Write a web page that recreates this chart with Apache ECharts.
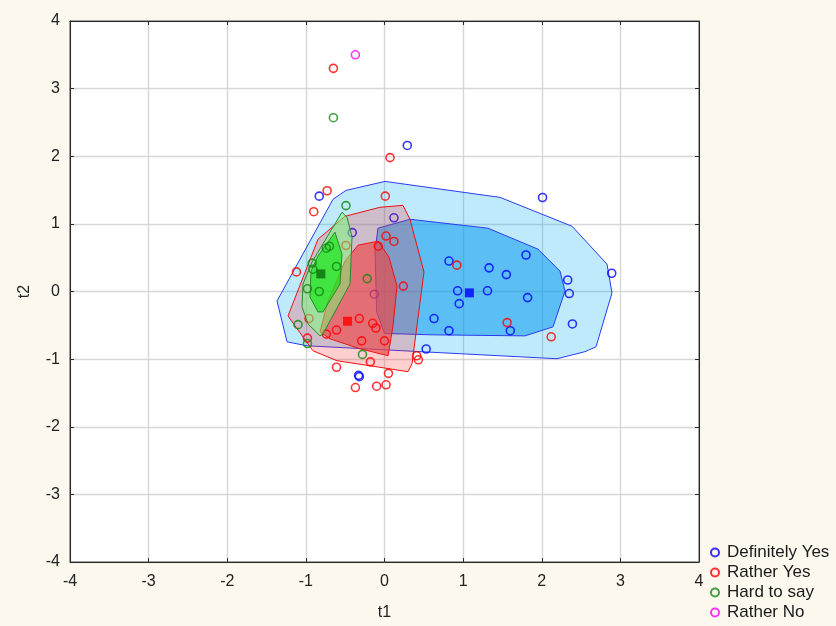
<!DOCTYPE html>
<html>
<head>
<meta charset="utf-8">
<script src="https://cdn.jsdelivr.net/npm/echarts@6/dist/echarts.min.js"></script>
<style>
  html, body { margin: 0; padding: 0; background: #fdf8ee; }
  #chart { width: 836px; height: 626px; }
</style>
</head>
<body>
<div id="chart"></div>
<script>
// ---- Data ----
const xTicks = [-4, -3, -2, -1, 0, 1, 2, 3, 4];
const yTicks = [-4, -3, -2, -1, 0, 1, 2, 3, 4];
const seriesNames = ['Definitely Yes', 'Rather Yes', 'Hard to say', 'Rather No'];

const definitelyYes = [
  [0.29, 2.16], [-0.83, 1.41], [2.01, 1.39], [1.80, 0.54], [0.82, 0.45], [1.33, 0.35],
  [1.55, 0.25], [2.33, 0.17], [2.89, 0.27], [2.35, -0.03], [0.93, 0.01], [1.31, 0.01],
  [1.82, -0.09], [0.95, -0.18], [0.63, -0.40], [0.82, -0.58], [1.60, -0.58], [2.39, -0.48],
  [0.53, -0.85], [-0.33, -1.24], [-0.32, -1.26], [0.12, 1.09], [-0.41, 0.87], [-0.13, -0.04]
];
const ratherYes = [
  [-0.65, 3.30], [0.07, 1.98], [-0.73, 1.49], [-0.90, 1.18], [0.01, 1.41], [0.02, 0.82],
  [0.12, 0.74], [-0.08, 0.67], [-1.12, 0.29], [0.24, 0.08], [0.92, 0.39], [-0.49, 0.68],
  [-0.96, -0.40], [-0.32, -0.40], [-0.15, -0.47], [-0.11, -0.54], [-0.61, -0.57], [-0.74, -0.63],
  [-0.98, -0.69], [-0.29, -0.73], [0.00, -0.73], [-0.18, -1.04], [0.41, -0.95], [0.43, -1.01],
  [-0.61, -1.12], [0.05, -1.21], [-0.37, -1.42], [-0.10, -1.40], [0.02, -1.38], [1.56, -0.46],
  [2.12, -0.67]
];
const hardToSay = [
  [-0.65, 2.57], [-0.49, 1.27], [-0.70, 0.67], [-0.74, 0.64], [-0.61, 0.37], [-0.92, 0.42],
  [-0.91, 0.33], [-0.22, 0.19], [-0.98, 0.04], [-0.83, 0.00], [-1.10, -0.49], [-0.98, -0.77],
  [-0.28, -0.93]
];
const ratherNo = [[-0.37, 3.50]];

const dyCentroid = [[1.08, -0.02]];
const ryCentroid = [[-0.47, -0.44]];
const hsCentroid = [[-0.81, 0.26]];

const dyOuter = [
  [-0.49, 1.495], [0.006, 1.628], [1.469, 1.392], [2.385, 0.965], [2.83, 0.405], [2.893, -0.022],
  [2.69, -0.818], [2.55, -0.89], [2.194, -0.994], [-0.986, -0.803], [-1.24, -0.744], [-1.367, -0.14],
  [-0.655, 1.363]
];
const dyInner = [
  [-0.083, 0.936], [0.324, 1.068], [1.316, 0.936], [1.952, 0.626], [2.232, 0.302], [2.296, 0.007],
  [2.143, -0.523], [1.787, -0.656], [0.617, -0.641], [0.0, -0.62], [-0.1, -0.3], [-0.12, 0.6]
];
const ryOuter = [
  [-1.227, -0.361], [-0.846, 0.773], [-0.502, 1.112], [-0.057, 1.245], [0.235, 1.274], [0.324, 1.068],
  [0.502, 0.287], [0.35, -1.068], [0.299, -1.186], [-0.184, -1.098], [-0.604, -1.024], [-0.909, -0.877],
  [-1.138, -0.508]
];
const ryInner = [
  [-0.82, -0.597], [-0.731, -0.184], [-0.502, 0.449], [-0.337, 0.685], [-0.083, 0.744], [0.057, 0.508],
  [0.159, 0.081], [0.108, -0.508], [0.045, -0.95], [-0.312, -0.847], [-0.693, -0.70]
];
const hsOuter = [
  [-0.541, 1.171], [-0.477, 1.098], [-0.413, 0.803], [-0.439, 0.11], [-0.782, -0.626], [-0.82, -0.656],
  [-0.973, -0.479], [-1.049, -0.228], [-1.037, 0.11], [-0.922, 0.435]
];
const hsInner = [
  [-0.63, 0.877], [-0.541, 0.552], [-0.566, 0.11], [-0.782, -0.302], [-0.846, -0.302], [-0.948, -0.081],
  [-0.935, 0.302], [-0.846, 0.523]
];

// ---- Chart ----
const FONT = 'Liberation Sans, Arial, sans-serif';
const chart = echarts.init(document.getElementById('chart'), null, { renderer: 'canvas' });

function polySeries(pts, fill, stroke, z) {
  return {
    type: 'custom',
    coordinateSystem: 'cartesian2d',
    data: pts,
    encode: { x: 0, y: 1 },
    silent: true,
    z: z,
    renderItem: function (params, api) {
      if (params.dataIndex !== 0) return null;
      const points = pts.map(function (p) { return api.coord(p); });
      return { type: 'polygon', shape: { points: points }, style: { fill: fill, stroke: stroke, lineWidth: 1 } };
    }
  };
}
function pointSeries(name, pts, color, z) {
  return {
    type: 'scatter', name: name, data: pts, symbol: 'circle', symbolSize: 8, z: z,
    itemStyle: { color: 'rgba(0,0,0,0)', borderColor: color, borderWidth: 1.6 },
    emphasis: { disabled: true }
  };
}
function centroidSeries(pts, color, z) {
  return {
    type: 'scatter', data: pts, symbol: 'rect', symbolSize: 9, z: z,
    itemStyle: { color: color }, emphasis: { disabled: true }
  };
}

const axisCommon = {
  min: -4, max: 4, interval: 1,
  axisLine: { show: true, onZero: false, lineStyle: { color: '#2a2a2a', width: 1 } },
  axisTick: { show: true, inside: true, length: 4, lineStyle: { color: '#2a2a2a' } },
  splitLine: { show: true, lineStyle: { color: '#d6d6d6', width: 1.4 } },
  axisLabel: { color: '#222', fontSize: 16, fontFamily: FONT },
  nameTextStyle: { color: '#222', fontSize: 16, fontFamily: FONT }
};

const option = {
  backgroundColor: '#fdf8ee',
  animation: false,
  grid: { left: 70, top: 21, right: 137, bottom: 62, show: true, backgroundColor: '#ffffff', borderColor: '#2a2a2a', borderWidth: 1 },
  legend: {
    data: seriesNames,
    orient: 'vertical',
    left: 710, top: 544, padding: 0,
    itemWidth: 14, itemHeight: 8, itemGap: 3,
    textStyle: { color: '#1a1a1a', fontSize: 17, fontFamily: FONT },
    selectedMode: false
  },
  xAxis: [
    Object.assign({}, axisCommon, {
      type: 'value', position: 'bottom', name: 't1', nameLocation: 'middle', nameGap: 43,
      axisLabel: Object.assign({}, axisCommon.axisLabel, { margin: 12, formatter: function (v) { return xTicks.indexOf(v) >= 0 ? String(v) : ''; } })
    }),
    Object.assign({}, axisCommon, {
      type: 'value', position: 'top', axisLabel: { show: false }, splitLine: { show: false }
    })
  ],
  yAxis: [
    Object.assign({}, axisCommon, {
      type: 'value', position: 'left', name: 't2', nameLocation: 'middle', nameGap: 37, nameRotate: 90,
      axisLabel: Object.assign({}, axisCommon.axisLabel, { margin: 10, formatter: function (v) { return yTicks.indexOf(v) >= 0 ? String(v) : ''; } })
    }),
    Object.assign({}, axisCommon, {
      type: 'value', position: 'right', axisLabel: { show: false }, splitLine: { show: false }
    })
  ],
  series: [
    polySeries(dyOuter, 'rgba(0,170,240,0.25)', '#2a3cf0', 1),
    polySeries(dyInner, 'rgba(0,150,240,0.52)', '#2a3cf0', 2),
    pointSeries('Definitely Yes', definitelyYes, '#0000ff', 3),
    centroidSeries(dyCentroid, '#0000ff', 3),
    polySeries(ryOuter, 'rgba(255,30,30,0.22)', '#ee1111', 4),
    polySeries(ryInner, 'rgba(238,70,70,0.66)', '#ee1111', 5),
    pointSeries('Rather Yes', ratherYes, '#ff0000', 6),
    centroidSeries(ryCentroid, '#ff0000', 6),
    polySeries(hsOuter, 'rgba(120,255,120,0.5)', '#2a8a2a', 7),
    polySeries(hsInner, 'rgba(0,232,0,0.6)', '#2a8a2a', 8),
    pointSeries('Hard to say', hardToSay, '#118811', 9),
    centroidSeries(hsCentroid, '#0a6a0a', 9),
    pointSeries('Rather No', ratherNo, '#ff00ff', 10)
  ]
};
chart.setOption(option);
</script>
</body>
</html>
